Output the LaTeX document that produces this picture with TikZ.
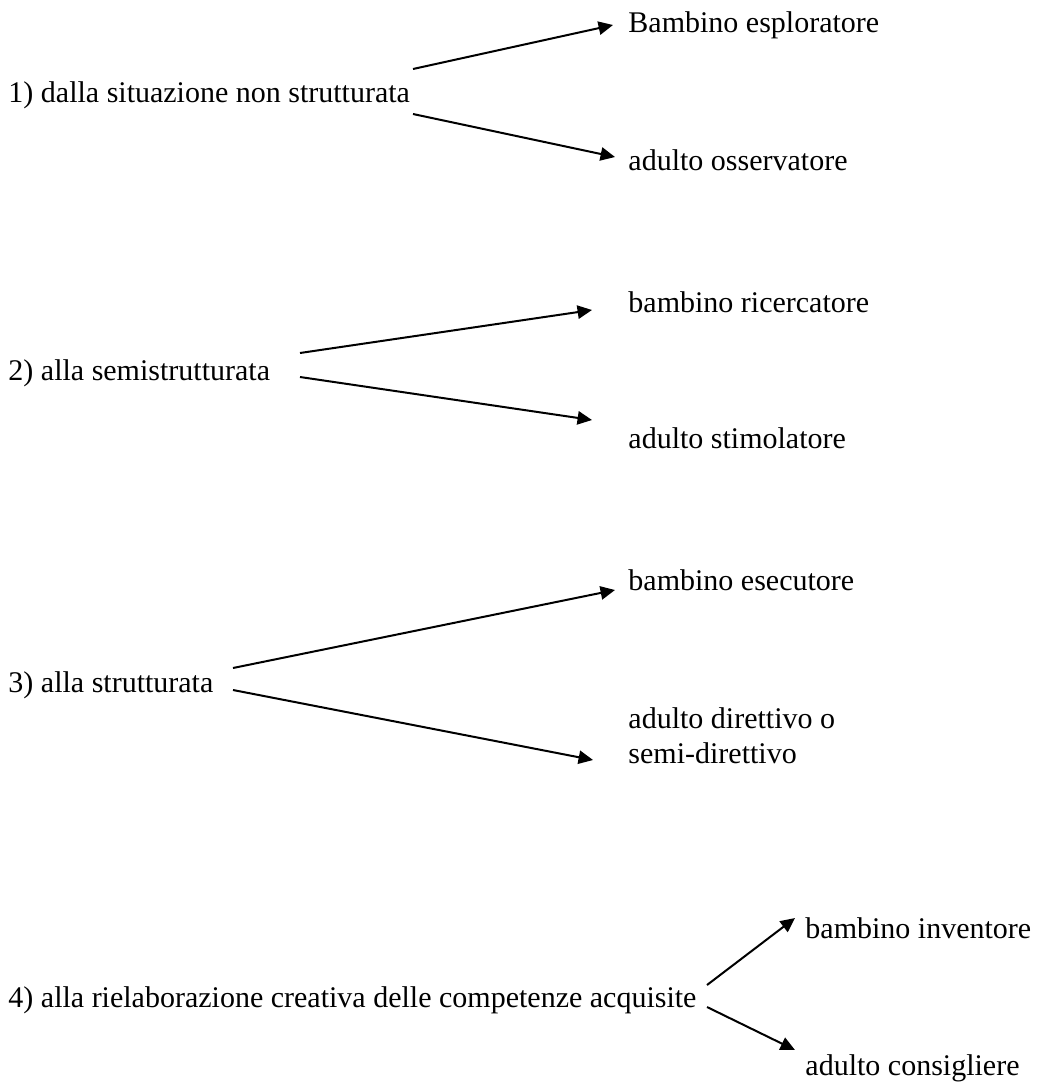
\documentclass[tikz,border=0pt]{standalone}
\usepackage{fontspec}
\setmainfont{Liberation Serif}
\usetikzlibrary{arrows.meta,calc}

\begin{document}
\begin{tikzpicture}[
  x=0.45pt, y=-0.45pt,
  lbl/.style={font=\fontsize{13.5}{15.5}\selectfont, anchor=base west, inner sep=0pt, align=left},
  arr/.style={-{Triangle[length=6.5pt,width=6pt]}, line width=0.9pt},
]

\useasboundingbox (0,0) rectangle (1037,1082);

% ===== 1) situazione non strutturata ==========================================
\node[lbl] (sit1) at (8,102) {1) dalla situazione non strutturata};
\node[lbl] (bam1) at (628,32)  {Bambino esploratore};
\node[lbl] (adu1) at (628,170) {adulto osservatore};

\coordinate (sit1u) at (413,69);
\coordinate (sit1d) at (413,114);
\draw[arr] (sit1u) -- ($(bam1.base west)+(-15,-7)$);
\draw[arr] (sit1d) -- ($(adu1.base west)+(-13,-13)$);

% ===== 2) semistrutturata ======================================================
\node[lbl] (sit2) at (8,380) {2) alla semistrutturata};
\node[lbl] (bam2) at (628,312) {bambino ricercatore};
\node[lbl] (adu2) at (628,448) {adulto stimolatore};

\coordinate (sit2u) at (300,353);
\coordinate (sit2d) at (300,377);
\draw[arr] (sit2u) -- ($(bam2.base west)+(-36,-2)$);
\draw[arr] (sit2d) -- ($(adu2.base west)+(-36,-28)$);

% ===== 3) strutturata ==========================================================
\node[lbl] (sit3) at (8,692) {3) alla strutturata};
\node[lbl] (bam3) at (628,590) {bambino esecutore};
\node[lbl] (adu3) at (628,763) {adulto direttivo o\\semi-direttivo};

\coordinate (sit3u) at (233,668);
\coordinate (sit3d) at (233,690);
\draw[arr] (sit3u) -- ($(bam3.base west)+(-13,0)$);
\draw[arr] (sit3d) -- ($(adu3.base west)+(-35,-3)$);

% ===== 4) rielaborazione creativa ==============================================
\node[lbl] (sit4) at (8,1007) {4) alla rielaborazione creativa delle competenze acquisite};
\node[lbl] (bam4) at (805,938)  {bambino inventore};
\node[lbl] (adu4) at (805,1075) {adulto consigliere};

\coordinate (sit4u) at (707,985);
\coordinate (sit4d) at (707,1007);
\draw[arr] (sit4u) -- ($(bam4.base west)+(-10,-20)$);
\draw[arr] (sit4d) -- ($(adu4.base west)+(-10,-25)$);

\end{tikzpicture}
\end{document}
